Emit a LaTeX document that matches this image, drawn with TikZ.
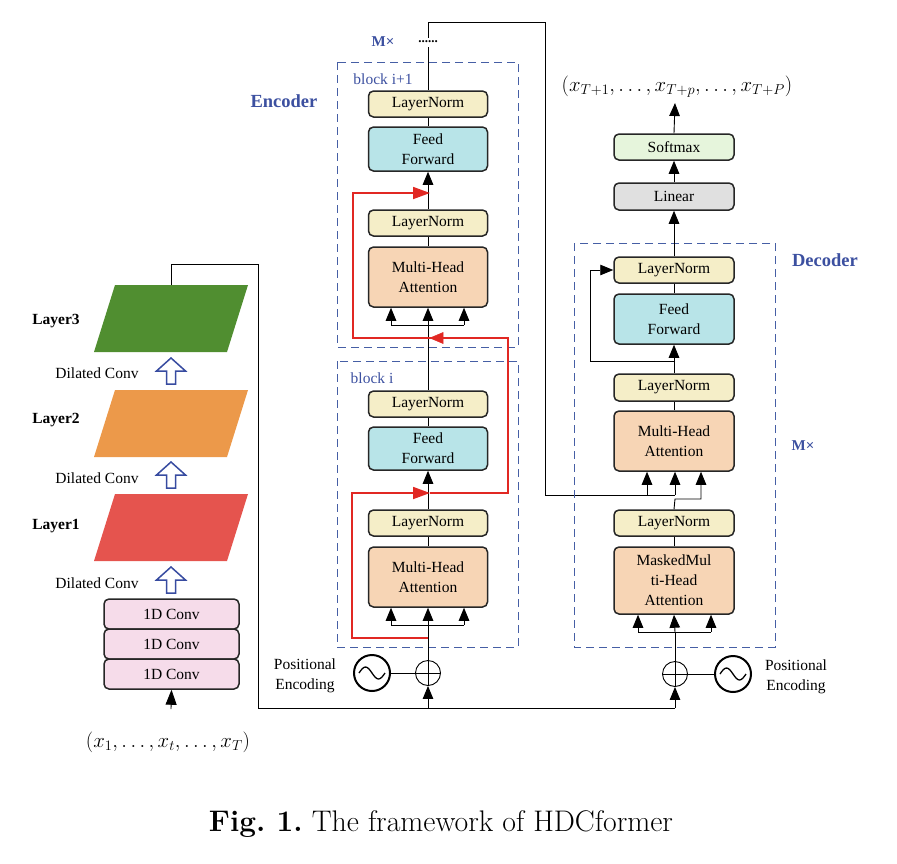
\documentclass[tikz,border=0pt]{standalone}
\usepackage{fontspec}
\newfontfamily\tnr{Liberation Serif}
\usetikzlibrary{arrows.meta}
\definecolor{lnfill}{RGB}{245,238,200}
\definecolor{fffill}{RGB}{184,228,232}
\definecolor{mhafill}{RGB}{247,213,181}
\definecolor{smfill}{RGB}{230,245,220}
\definecolor{linfill}{RGB}{224,224,224}
\definecolor{convfill}{RGB}{246,220,234}
\definecolor{lgreen}{RGB}{80,142,48}
\definecolor{lorange}{RGB}{236,153,74}
\definecolor{lred}{RGB}{229,84,78}
\definecolor{dashblue}{RGB}{70,95,165}
\definecolor{txtblue}{RGB}{60,80,160}
\definecolor{resred}{RGB}{225,40,35}
\definecolor{hollowblue}{RGB}{55,75,160}
\begin{document}
\begin{tikzpicture}[x=1pt,y=-1pt,line width=0.9pt,
 box/.style={draw=black!85, line width=1.5pt, rounded corners=5pt, inner sep=0pt, align=center, font=\tnr\fontsize{15.5}{20}\selectfont},
 lnbox/.style={box, fill=lnfill, minimum width=119pt, minimum height=26pt},
 ffbox/.style={box, fill=fffill, minimum width=119pt},
 mhabox/.style={box, fill=mhafill, minimum width=119pt},
 convbox/.style={box, fill=convfill, minimum width=135pt, minimum height=30pt},
 arr/.style={-{Triangle[width=10.5pt,length=13pt]}},
 rarr/.style={draw=resred, line width=1.8pt, -{Triangle[width=12pt,length=17pt]}},
 rline/.style={draw=resred, line width=1.8pt},
 dbox/.style={draw=dashblue, line width=1pt, dash pattern=on 8pt off 5pt},
 txt/.style={font=\tnr\fontsize{15.5}{20}\selectfont, align=center},
 btxt/.style={font=\tnr\bfseries\fontsize{15.5}{20}\selectfont},
 bluetxt/.style={font=\tnr\fontsize{15.5}{20}\selectfont, text=txtblue},
 bigblue/.style={font=\tnr\bfseries\fontsize{18.5}{22}\selectfont, text=txtblue},
 plus/.style={circle, draw, line width=0.9pt, minimum size=25pt, inner sep=0pt},
 sine/.style={circle, draw, line width=2pt, minimum size=36pt, inner sep=0pt},
 hollowup/.pic={\draw[line width=1.5pt, draw=hollowblue, fill=white, line join=miter] (-4.5,26) -- (-4.5,13) -- (-14.5,13) -- (0,0) -- (14.5,13) -- (4.5,13) -- (4.5,26) -- cycle;}
]
\useasboundingbox (0,0) rectangle (897,863);

% ---------- left: HDC ----------
\fill[lgreen] (115,285) -- (248,285) -- (227,352) -- (94,352) -- cycle;
\fill[lorange] (115,390) -- (248,390) -- (227,457) -- (94,457) -- cycle;
\fill[lred] (115,494) -- (248,494) -- (227,561) -- (94,561) -- cycle;
\node[btxt] (lab3) at (56,321) {Layer3};
\node[btxt] (lab2) at (56,420) {Layer2};
\node[btxt] (lab1) at (56,526) {Layer1};
\node[txt] (dc3) at (97,373) {Dilated Conv};
\node[txt] (dc2) at (97,478) {Dilated Conv};
\node[txt] (dc1) at (97,583) {Dilated Conv};
\pic at (171,358) {hollowup};
\pic at (171,462) {hollowup};
\pic at (171,567) {hollowup};
\node[convbox] (conv1) at (171.5,614) {1D Conv};
\node[convbox] (conv2) at (171.5,644) {1D Conv};
\node[convbox] (conv3) at (171.5,674) {1D Conv};
\node[font=\fontsize{20.5}{22}\selectfont] (inp) at (168,742) {$(x_1,\ldots,x_t,\ldots,x_T)$};
\coordinate (inbot) at (171,709);
\draw[-{Triangle[width=11pt,length=15pt]}] (inbot) -- (conv3.south);

\coordinate (l3top) at (171,285);
\coordinate (c1) at (171,264);
\coordinate (c2) at (258,264);
\coordinate (c3) at (258,708);
\coordinate (encin) at (428,708);
\coordinate (decin) at (675,708);
\draw (l3top) -- (c1) -- (c2) -- (c3) -- (decin);

% ---------- encoder ----------
\draw[dbox] (337,62) rectangle (518,347);
\draw[dbox] (337,361) rectangle (518,647);
\node[bigblue] (enclab) at (284,101) {Encoder};
\node[font=\tnr\bfseries\fontsize{15}{18}\selectfont, text=txtblue] (emx) at (383,42) {M×};
\node[font=\tnr\bfseries\fontsize{13}{14}\selectfont, inner sep=3pt] (dots) at (428,42) {......};
\node[bluetxt] (bip1) at (383,79) {block i+1};
\node[bluetxt] (bi) at (372,378) {block i};

% block i+1
\node[lnbox] (aln2) at (428,104) {LayerNorm};
\node[ffbox, minimum height=44pt] (aff) at (428,149) {Feed\\Forward};
\node[lnbox] (aln1) at (428,223) {LayerNorm};
\node[mhabox, minimum height=60pt] (amha) at (428,277) {Multi-Head\\Attention};
% block i
\node[lnbox] (bln2) at (428,404) {LayerNorm};
\node[ffbox, minimum height=43pt] (bff) at (428,448.5) {Feed\\Forward};
\node[lnbox] (bln1) at (428,523) {LayerNorm};
\node[mhabox, minimum height=60pt] (bmha) at (428,577) {Multi-Head\\Attention};

\node[plus] (eplus) at (428,673) {};
\draw (eplus.north) -- (eplus.south) (eplus.west) -- (eplus.east);
\node[sine] (esin) at (372,673) {};
\draw[line width=1.3pt] (359,673) sin (365.5,667) cos (372,673) sin (378.5,679) cos (385,673);
\draw (esin) -- (eplus);
\node[txt] (epe) at (305,676) {Positional\\Encoding};
\draw[arr] (encin) -- (eplus.south);

% block i flow
\coordinate (bbar) at (428,625);
\coordinate (bbarL) at (391,625);
\coordinate (bbarR) at (464,625);
\draw (eplus.north) -- (bbar);
\draw (bbarL) -- (bbarR);
\draw[arr] (bbarL) -- (bbarL |- bmha.south);
\draw[arr] (bbar) -- (bmha.south);
\draw[arr] (bbarR) -- (bbarR |- bmha.south);
\draw (bmha.north) -- (bln1.south);
\draw[arr] (bln1.north) -- (bff.south);
\draw (bff.north) -- (bln2.south);
% block i+1 flow
\coordinate (abar) at (428,325);
\coordinate (abarL) at (391,325);
\coordinate (abarR) at (464,325);
\draw (bln2.north) -- (abar);
\draw (abarL) -- (abarR);
\draw[arr] (abarL) -- (abarL |- amha.south);
\draw[arr] (abar) -- (amha.south);
\draw[arr] (abarR) -- (abarR |- amha.south);
\draw (amha.north) -- (aln1.south);
\draw[arr] (aln1.north) -- (aff.south);
\draw (aff.north) -- (aln2.south);
\draw (aln2.north) -- (dots.south);
\coordinate (t1) at (428,22);
\coordinate (t2) at (545,22);
\coordinate (t3) at (545,495);
\coordinate (t4) at (675,495);
\draw (dots.north) -- (t1) -- (t2) -- (t3) -- (t4);

% red residuals
\coordinate (r0) at (428,638);
\coordinate (r1) at (352,638);
\coordinate (r2) at (352,493);
\coordinate (r3) at (430,493);
\coordinate (r4) at (508,493);
\coordinate (r5) at (508,338);
\coordinate (r6) at (430,338);
\coordinate (r7) at (353,338);
\coordinate (r8) at (353,193);
\coordinate (r9) at (430,193);
\draw[rarr] (r0) -- (r1) -- (r2) -- (r3);
\draw[rline] (r3) -- (r4) -- (r5) -- (r6);
\draw[draw=resred, fill=resred, line width=0.5pt] (430,338) -- (443,332.5) -- (443,343.5) -- cycle;
\draw[rarr] (r6) -- (r7) -- (r8) -- (r9);

% ---------- decoder ----------
\draw[dbox] (574,243) rectangle (775,647);
\node[bigblue] (declab) at (825,260) {Decoder};
\node[font=\tnr\bfseries\fontsize{15}{18}\selectfont, text=txtblue] (dmx) at (803,446) {M×};

\node[font=\fontsize{21.5}{24}\selectfont] (outp) at (677,87) {$(x_{T+1},\ldots,x_{T+p},\ldots,x_{T+P})$};
\coordinate (outarr) at (675,103);
\node[box, fill=smfill, minimum width=120pt, minimum height=26pt] (soft) at (674,147) {Softmax};
\node[box, fill=linfill, minimum width=120pt, minimum height=27pt] (lin) at (674,196.5) {Linear};
\node[lnbox, minimum width=120pt] (dln3) at (674,270) {LayerNorm};
\node[ffbox, minimum width=120pt, minimum height=50pt] (dff) at (674,319) {Feed\\Forward};
\node[lnbox, minimum width=120pt, minimum height=27pt] (dln2) at (674,387.5) {LayerNorm};
\node[mhabox, minimum width=120pt, minimum height=60pt] (dmha) at (674,441) {Multi-Head\\Attention};
\node[lnbox, minimum width=120pt] (dln1) at (674,523) {LayerNorm};
\node[mhabox, minimum width=120pt, minimum height=67pt] (dmmha) at (674,580.5) {MaskedMul\\ti-Head\\Attention};

\node[plus] (dplus) at (675,674) {};
\draw (dplus.north) -- (dplus.south) (dplus.west) -- (dplus.east);
\node[sine] (dsin) at (733,674) {};
\draw[line width=1.3pt] (720,674) sin (726.5,668) cos (733,674) sin (739.5,680) cos (746,674);
\draw (dplus) -- (dsin);
\node[txt] (dpe) at (796,677) {Positional\\Encoding};
\draw[arr] (decin) -- (dplus.south);

\coordinate (dbar) at (675,632);
\coordinate (dbarL) at (638,632);
\coordinate (dbarR) at (711,632);
\draw (dplus.north) -- (dbar);
\draw (dbarL) -- (dbarR);
\draw[arr] (dbarL) -- (dbarL |- dmmha.south);
\draw[arr] (dbar) -- (dmmha.south);
\draw[arr] (dbarR) -- (dbarR |- dmmha.south);
\draw (dmmha.north) -- (dln1.south);
\coordinate (q1) at (675,499);
\coordinate (q2) at (701,499);
\draw[arr] (dln1.north) -- (q1) -- (q2) -- (q2 |- dmha.south);
\coordinate (p1) at (647,495);
\draw[arr] (p1) -- (p1 |- dmha.south);
\draw[arr] (t4) -- (t4 |- dmha.south);
\draw (dmha.north) -- (dln2.south);
\draw[arr] (dln2.north) -- (dff.south);
\coordinate (s1) at (675,361);
\coordinate (s2) at (590,361);
\coordinate (s3) at (590,270);
\draw[arr] (s1) -- (s2) -- (s3) -- (dln3.west);
\draw (dff.north) -- (dln3.south);
\draw[arr] (dln3.north) -- (lin.south);
\draw[arr] (lin.north) -- (soft.south);
\draw[arr] (soft.north) -- (outarr);

% caption
\node[font=\fontsize{29.8}{32}\selectfont] (cap) at (441,824) {\textbf{Fig.\ 1.}\ The framework of HDCformer};
\end{tikzpicture}
\end{document}
